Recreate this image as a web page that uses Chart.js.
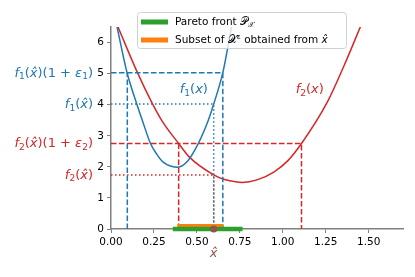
<!DOCTYPE html>
<html>
<head>
<meta charset="utf-8">
<script src="https://cdn.jsdelivr.net/npm/chart.js@4"></script>
<style>
  html, body { margin: 0; padding: 0; background: #fff; }
  #wrap { width: 415px; height: 277px; }
</style>
</head>
<body>
<div id="wrap"><canvas id="chart" width="415" height="277"></canvas></div>
<script>
// samples of the two objective curves
const f1X = [0.033, 0.092, 0.15, 0.185, 0.23, 0.267, 0.304, 0.382, 0.44, 0.508, 0.566, 0.598, 0.651, 0.686, 0.705];
const f1Y = [6.56, 5.06, 4.02, 3.45, 2.75, 2.40, 2.15, 1.99, 2.15, 2.75, 3.49, 4.02, 5.03, 6.03, 6.6];
const f2X = [0.037, 0.154, 0.235, 0.296, 0.394, 0.455, 0.598, 0.656, 0.734, 0.764, 0.85, 0.95, 1.03, 1.109, 1.26, 1.358, 1.456];
const f2Y = [6.55, 5.03, 4.1, 3.49, 2.75, 2.32, 1.74, 1.60, 1.51, 1.50, 1.58, 1.84, 2.2, 2.75, 4.09, 5.27, 6.56];

// chosen point and the epsilon levels
const xHat = 0.598;
const f1HatVal = 4.02;
const f1EpsVal = 5.03;
const f2HatVal = 1.74;
const f2EpsVal = 2.75;
const f1EpsBounds = [0.095, 0.651];
const f2EpsBounds = [0.394, 1.109];
const paretoFront = [0.36, 0.766];
const epsSubset = [0.386, 0.655];

const xTicks = [0, 0.25, 0.5, 0.75, 1.0, 1.25, 1.5];
const yTicks = [0, 1, 2, 3, 4, 5, 6];

const BLUE = '#1f77b4', RED = '#d62728', GREEN = '#2ca02c', ORANGE = '#ff7f0e', BROWN = '#8c564b';
const FAM = '"DejaVu Sans"';

const zip = (xs, ys) => xs.map((x, i) => ({ x: x, y: ys[i] }));

function guide(points, color, dash) {
    return {
        data: points, showLine: true, borderColor: color, borderWidth: 1.5,
        borderDash: dash, pointRadius: 0, tension: 0, order: 3
    };
}
const DASH = [5.5, 2.5];
const DOT = [1.5, 2.5];

// small renderer for the math labels: [text, style] pieces
// styles: r roman, i italic, s subscript, p superscript
function drawMath(ctx, parts, x, y, size, color, align) {
    const fontFor = st => {
        const s = (st === 's' || st === 'p') ? size * 0.7 : size;
        return (st === 'i' ? 'italic ' : '') + s + 'px ' + FAM;
    };
    let total = 0;
    parts.forEach(p => { ctx.font = fontFor(p[1]); total += ctx.measureText(p[0]).width; });
    let cx = align === 'right' ? x - total : (align === 'center' ? x - total / 2 : x);
    const base = y + size * 0.3;
    ctx.save();
    ctx.fillStyle = color;
    ctx.textBaseline = 'alphabetic';
    ctx.textAlign = 'left';
    parts.forEach(p => {
        ctx.font = fontFor(p[1]);
        let by = base;
        if (p[1] === 's') by += size * 0.2;
        if (p[1] === 'p') by -= size * 0.38;
        ctx.fillText(p[0], cx, by);
        cx += ctx.measureText(p[0]).width;
    });
    ctx.restore();
}

const f1EpsLbl = [['f', 'i'], ['1', 's'], ['(', 'r'], ['x\u0302', 'i'], [')(1 + ', 'r'], ['\u03b5', 'i'], ['1', 's'], [')', 'r']];
const f1HatLbl = [['f', 'i'], ['1', 's'], ['(', 'r'], ['x\u0302', 'i'], [')', 'r']];
const f2EpsLbl = [['f', 'i'], ['2', 's'], ['(', 'r'], ['x\u0302', 'i'], [')(1 + ', 'r'], ['\u03b5', 'i'], ['2', 's'], [')', 'r']];
const f2HatLbl = [['f', 'i'], ['2', 's'], ['(', 'r'], ['x\u0302', 'i'], [')', 'r']];
const f1Lbl = [['f', 'i'], ['1', 's'], ['(', 'r'], ['x', 'i'], [')', 'r']];
const f2Lbl = [['f', 'i'], ['2', 's'], ['(', 'r'], ['x', 'i'], [')', 'r']];

const annotations = {
    id: 'annotations',
    afterDraw(chart) {
        const ctx = chart.ctx;
        const xs = chart.scales.x, ys = chart.scales.y;
        const lx = ys.right - 18;
        drawMath(ctx, f1EpsLbl, lx, ys.getPixelForValue(f1EpsVal), 13, BLUE, 'right');
        drawMath(ctx, f1HatLbl, lx, ys.getPixelForValue(f1HatVal), 13, BLUE, 'right');
        drawMath(ctx, f2EpsLbl, lx, ys.getPixelForValue(f2EpsVal), 13, RED, 'right');
        drawMath(ctx, f2HatLbl, lx, ys.getPixelForValue(f2HatVal), 13, RED, 'right');
        drawMath(ctx, f1Lbl, xs.getPixelForValue(0.40), ys.getPixelForValue(4.5), 13, BLUE, 'left');
        drawMath(ctx, f2Lbl, xs.getPixelForValue(1.075), ys.getPixelForValue(4.5), 13, RED, 'left');
        drawMath(ctx, [['x\u0302', 'i']], xs.getPixelForValue(xHat), ys.bottom + 24, 13, BROWN, 'center');

        // legend box
        ctx.save();
        const bx = 137.5, by = 12.5, bw = 209, bh = 36, r = 3;
        ctx.beginPath();
        ctx.moveTo(bx + r, by);
        ctx.arcTo(bx + bw, by, bx + bw, by + bh, r);
        ctx.arcTo(bx + bw, by + bh, bx, by + bh, r);
        ctx.arcTo(bx, by + bh, bx, by, r);
        ctx.arcTo(bx, by, bx + bw, by, r);
        ctx.closePath();
        ctx.fillStyle = 'rgba(255,255,255,0.8)';
        ctx.fill();
        ctx.strokeStyle = '#d0d0d0';
        ctx.lineWidth = 1;
        ctx.stroke();
        ctx.lineWidth = 5;
        ctx.strokeStyle = GREEN;
        ctx.beginPath(); ctx.moveTo(141, 22); ctx.lineTo(168, 22); ctx.stroke();
        ctx.strokeStyle = ORANGE;
        ctx.beginPath(); ctx.moveTo(141, 40); ctx.lineTo(168, 40); ctx.stroke();
        ctx.restore();
        drawMath(ctx, [['Pareto front ', 'r'], ['\ud835\udcab', 'r'], ['\ud835\udcb3', 's']], 175, 22, 10.5, '#000', 'left');
        drawMath(ctx, [['Subset of ', 'r'], ['\ud835\udcb3', 'r'], ['\u03b5', 'p'], [' obtained from ', 'r'], ['x\u0302', 'i']], 175, 40, 10.5, '#000', 'left');
    }
};

new Chart(document.getElementById('chart'), {
    type: 'scatter',
    data: {
        datasets: [
            { data: zip(f1X, f1Y), showLine: true, borderColor: BLUE, borderWidth: 1.5, pointRadius: 0, cubicInterpolationMode: 'monotone', order: 4 },
            { data: zip(f2X, f2Y), showLine: true, borderColor: RED, borderWidth: 1.5, pointRadius: 0, cubicInterpolationMode: 'monotone', order: 4 },
            guide([{ x: 0, y: f1EpsVal }, { x: f1EpsBounds[1], y: f1EpsVal }, { x: f1EpsBounds[1], y: 0 }], BLUE, DASH),
            guide([{ x: f1EpsBounds[0], y: 0 }, { x: f1EpsBounds[0], y: f1EpsVal }], BLUE, DASH),
            guide([{ x: 0, y: f1HatVal }, { x: xHat, y: f1HatVal }, { x: xHat, y: 0 }], BLUE, DOT),
            guide([{ x: 0, y: f2EpsVal }, { x: f2EpsBounds[1], y: f2EpsVal }, { x: f2EpsBounds[1], y: 0 }], RED, DASH),
            guide([{ x: f2EpsBounds[0], y: 0 }, { x: f2EpsBounds[0], y: f2EpsVal }], RED, DASH),
            guide([{ x: 0, y: f2HatVal }, { x: xHat, y: f2HatVal }, { x: xHat, y: 0 }], RED, DOT),
            { data: [{ x: epsSubset[0], y: 0.1 }, { x: epsSubset[1], y: 0.1 }], showLine: true, borderColor: ORANGE, borderWidth: 4, pointRadius: 0, clip: false, order: 2 },
            { data: [{ x: paretoFront[0], y: 0 }, { x: paretoFront[1], y: 0 }], showLine: true, borderColor: GREEN, borderWidth: 4.5, pointRadius: 0, clip: false, order: 1 },
            { data: [{ x: xHat, y: 0 }], pointRadius: 3.6, backgroundColor: BROWN, borderWidth: 0, clip: false, order: 0 }
        ]
    },
    options: {
        responsive: false,
        animation: false,
        devicePixelRatio: 1,
        layout: { padding: { left: 0, right: 12, top: 27, bottom: 0 } },
        plugins: { legend: { display: false }, tooltip: { enabled: false } },
        scales: {
            x: {
                type: 'linear', min: 0, max: 1.7,
                afterFit: s => { s.height = 48; },
                afterBuildTicks: s => { s.ticks = xTicks.map(v => ({ value: v })); },
                grid: { drawOnChartArea: false, tickLength: 4, color: '#808080' },
                border: { color: '#808080', width: 1.5 },
                ticks: { color: '#000', padding: 3, maxRotation: 0, font: { family: FAM, size: 10.5 }, callback: v => v.toFixed(2) }
            },
            y: {
                type: 'linear', min: 0, max: 6.5,
                afterFit: s => { s.width = 111; },
                afterBuildTicks: s => { s.ticks = yTicks.map(v => ({ value: v })); },
                grid: { drawOnChartArea: false, tickLength: 4, color: '#808080' },
                border: { color: '#808080', width: 1.5 },
                ticks: { color: '#000', padding: 3, font: { family: FAM, size: 10.5 }, callback: v => String(v) }
            }
        }
    },
    plugins: [annotations]
});
</script>
</body>
</html>
